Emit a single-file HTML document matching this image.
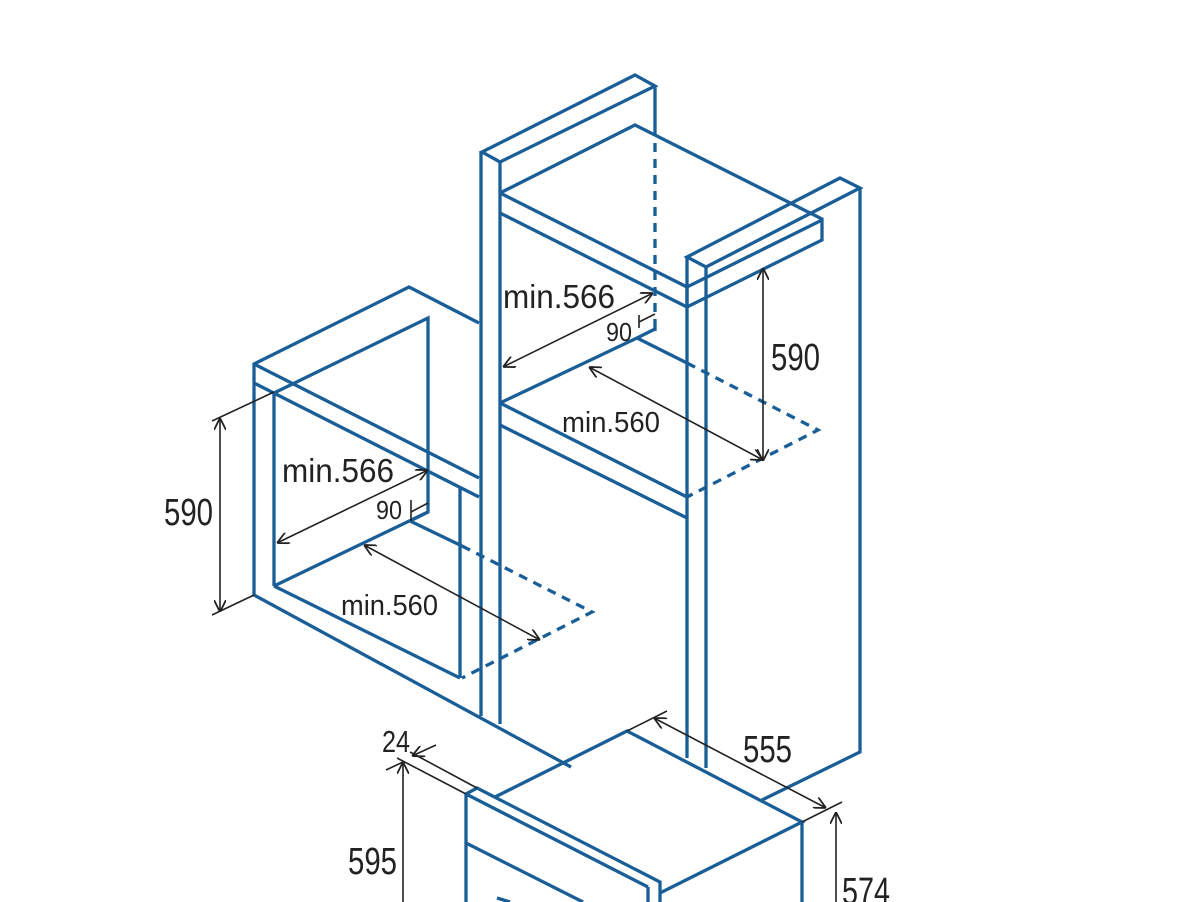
<!DOCTYPE html>
<html><head><meta charset="utf-8"><style>html,body{margin:0;padding:0;background:#fff}svg{display:block}</style></head>
<body>
<svg width="1200" height="902" viewBox="0 0 1200 902" xmlns="http://www.w3.org/2000/svg">
<defs>
<marker id="a" viewBox="0 0 10 10" refX="10" refY="5" markerWidth="12" markerHeight="12" markerUnits="userSpaceOnUse" orient="auto-start-reverse">
<path d="M0,0 L10,5 L0,10" fill="none" stroke="#222" stroke-width="1.5"/>
</marker>
</defs>
<g fill="none" stroke="#1a5e98" stroke-width="3.3" stroke-linejoin="miter">
<!-- left cabinet -->
<polyline points="254,595 254,364 409,287 479,323"/>
<line x1="254" y1="364" x2="479" y2="478"/>
<line x1="254" y1="383" x2="479" y2="497"/>
<line x1="274" y1="392" x2="274" y2="586"/>
<polyline points="274,393 428,318 428,512 274,586"/>
<polyline points="428,512 410,521 462,546"/>
<line x1="460" y1="488" x2="460" y2="678"/>
<line x1="274" y1="586" x2="460" y2="678"/>
<line x1="254" y1="595" x2="571" y2="767"/>
<polyline points="462,546 592,612 462,678" stroke-dasharray="9,7"/>
<!-- tall middle column -->
<polygon points="482,152 635,75 655,86 500,162"/>
<line x1="481" y1="152" x2="481" y2="716"/>
<line x1="500" y1="162" x2="500" y2="724"/>
<line x1="655" y1="86" x2="655" y2="127"/>
<line x1="655" y1="127" x2="655" y2="326" stroke-dasharray="9,7"/>
<line x1="655" y1="326" x2="655" y2="331"/>
<!-- upper cabinet -->
<polyline points="500,193 635,125 822,219"/>
<line x1="500" y1="193" x2="687" y2="287"/>
<line x1="500" y1="213" x2="687" y2="307"/>
<polygon points="687,287 822,220 822,240 687,307"/>
<polyline points="500,403 637,338 655,329"/>
<line x1="637" y1="338" x2="687" y2="363"/>
<line x1="500" y1="403" x2="687" y2="497"/>
<line x1="500" y1="425" x2="687" y2="518"/>
<polyline points="687,363 818,430 687,497" stroke-dasharray="9,7"/>
<!-- right column -->
<polygon points="687,257 840,178 860,188 706,267"/>
<line x1="687" y1="257" x2="687" y2="758"/>
<line x1="706" y1="267" x2="706" y2="768"/>
<polyline points="860,188 860,752 762,800"/>
<!-- oven -->
<polyline points="495,797 627,731 802,822 660,893"/>
<line x1="802" y1="822" x2="802" y2="902"/>
<polyline points="466,902 466,794 477,788 660,882 660,902"/>
<line x1="466" y1="794" x2="648" y2="887"/>
<line x1="648" y1="887" x2="648" y2="902"/>
<line x1="466" y1="843" x2="583" y2="902"/>
<line x1="497" y1="898" x2="510" y2="902"/>
</g>
<g fill="none" stroke="#222" stroke-width="1.6">
<line x1="503" y1="367" x2="653" y2="293" marker-start="url(#a)" marker-end="url(#a)"/>
<polyline points="639,315 639,328"/>
<line x1="639" y1="322" x2="655" y2="314"/>
<line x1="589" y1="367" x2="763" y2="460" marker-start="url(#a)" marker-end="url(#a)"/>
<line x1="763" y1="268" x2="763" y2="461" marker-start="url(#a)" marker-end="url(#a)"/>
<line x1="277" y1="543" x2="428" y2="470" marker-start="url(#a)" marker-end="url(#a)"/>
<polyline points="411,500 411,521"/>
<line x1="411" y1="512" x2="428" y2="503"/>
<line x1="364" y1="545" x2="540" y2="640" marker-start="url(#a)" marker-end="url(#a)"/>
<line x1="220" y1="418" x2="220" y2="612" marker-start="url(#a)" marker-end="url(#a)"/>
<line x1="212" y1="421" x2="274" y2="392"/>
<line x1="212" y1="615" x2="254" y2="595"/>
<line x1="627" y1="731" x2="667" y2="711"/>
<line x1="802" y1="822" x2="842" y2="802"/>
<line x1="654" y1="718" x2="826" y2="808" marker-start="url(#a)" marker-end="url(#a)"/>
<line x1="836" y1="812" x2="836" y2="902" marker-start="url(#a)"/>
<line x1="397" y1="758" x2="466" y2="794"/>
<line x1="410" y1="752" x2="477" y2="788"/>
<line x1="436" y1="745" x2="412" y2="756" marker-end="url(#a)"/>
<line x1="403" y1="762" x2="403" y2="902" marker-start="url(#a)"/>
<line x1="386" y1="770" x2="403" y2="762"/>
</g>
<g fill="#222" font-family="'Liberation Sans Narrow','Liberation Sans',sans-serif">
<text x="503" y="308" font-size="33" textLength="112" lengthAdjust="spacingAndGlyphs">min.566</text>
<text x="606" y="341" font-size="26" textLength="26" lengthAdjust="spacingAndGlyphs">90</text>
<text x="771" y="370" font-size="38" textLength="49" lengthAdjust="spacingAndGlyphs">590</text>
<text x="562" y="432" font-size="29" textLength="98" lengthAdjust="spacingAndGlyphs">min.560</text>
<text x="282" y="482" font-size="33" textLength="112" lengthAdjust="spacingAndGlyphs">min.566</text>
<text x="376" y="519" font-size="26" textLength="26" lengthAdjust="spacingAndGlyphs">90</text>
<text x="164" y="525" font-size="38" textLength="49" lengthAdjust="spacingAndGlyphs">590</text>
<text x="341" y="615" font-size="29" textLength="97" lengthAdjust="spacingAndGlyphs">min.560</text>
<text x="743" y="762" font-size="38" textLength="49" lengthAdjust="spacingAndGlyphs">555</text>
<text x="382" y="752" font-size="31" textLength="28" lengthAdjust="spacingAndGlyphs">24</text>
<text x="348" y="874" font-size="38" textLength="49" lengthAdjust="spacingAndGlyphs">595</text>
<text x="842" y="904" font-size="38" textLength="48" lengthAdjust="spacingAndGlyphs">574</text>
</g>
</svg>
</body></html>
